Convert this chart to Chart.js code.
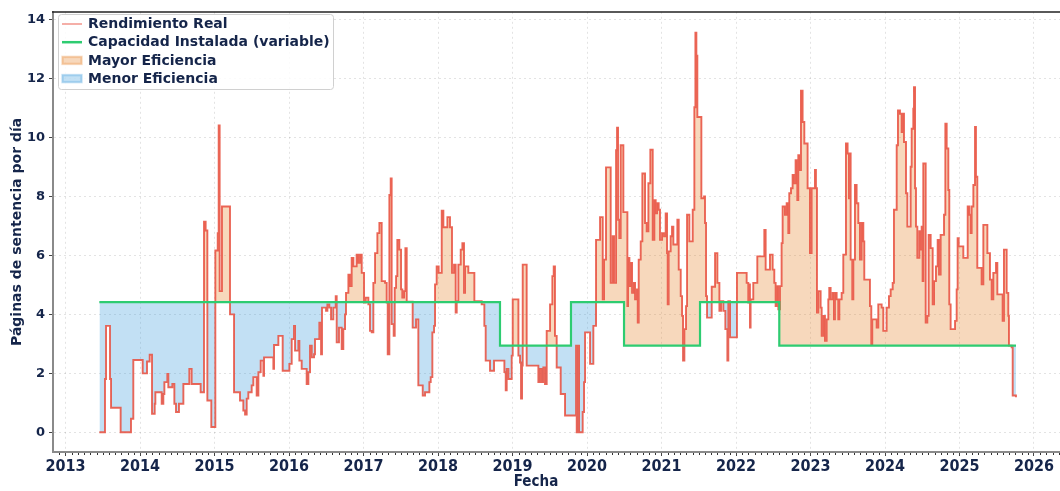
<!DOCTYPE html>
<html>
<head>
<meta charset="utf-8">
<script src="https://cdn.jsdelivr.net/npm/chart.js@4.4.0/dist/chart.umd.min.js"></script>
<style>
  html, body { margin: 0; padding: 0; background: #fff; }
  #wrap { width: 1060px; height: 491px; }
</style>
</head>
<body>
<div id="wrap"><canvas id="grafico" width="1060" height="491"></canvas></div>
<script>
// Fechas (año decimal) y rendimiento real
const fechas = [
  2013.454, 2013.53, 2013.544, 2013.597, 2013.611, 2013.74, 2013.879, 2013.91, 2014.036, 2014.094,
  2014.13, 2014.161, 2014.197, 2014.206, 2014.291, 2014.313, 2014.327, 2014.367, 2014.38, 2014.434,
  2014.461, 2014.483, 2014.523, 2014.582, 2014.662, 2014.693, 2014.814, 2014.859, 2014.881, 2014.904,
  2014.957, 2015.011, 2015.043, 2015.056, 2015.069, 2015.1, 2015.208, 2015.262,
  2015.342, 2015.387, 2015.41, 2015.432, 2015.454, 2015.499, 2015.521, 2015.566, 2015.589, 2015.62,
  2015.656, 2015.665, 2015.79, 2015.799, 2015.857, 2015.915, 2016.005, 2016.036, 2016.067, 2016.081,
  2016.126, 2016.139, 2016.17, 2016.237, 2016.26, 2016.282, 2016.305, 2016.336, 2016.349, 2016.407,
  2016.43, 2016.443, 2016.497, 2016.515, 2016.541, 2016.564, 2016.595, 2016.627, 2016.64, 2016.671,
  2016.707, 2016.729, 2016.752, 2016.765, 2016.797, 2016.819, 2016.841, 2016.864, 2016.908, 2016.931,
  2016.953, 2016.976, 2017.007, 2017.029, 2017.065, 2017.087, 2017.11, 2017.132, 2017.155, 2017.186,
  2017.213, 2017.244, 2017.289, 2017.311, 2017.325, 2017.347, 2017.365,
  2017.378, 2017.405, 2017.419, 2017.437, 2017.454, 2017.481, 2017.504, 2017.521, 2017.544, 2017.562,
  2017.58, 2017.66, 2017.705, 2017.736, 2017.795, 2017.826, 2017.884, 2017.902, 2017.924, 2017.947,
  2017.96, 2017.982, 2018.009, 2018.05, 2018.072, 2018.126, 2018.161, 2018.188, 2018.215, 2018.237,
  2018.251, 2018.273, 2018.305, 2018.327, 2018.349, 2018.363, 2018.407, 2018.488, 2018.586, 2018.622,
  2018.64, 2018.698, 2018.752, 2018.891, 2018.909, 2018.922, 2018.945, 2018.989, 2019.003, 2019.079,
  2019.101, 2019.114, 2019.128, 2019.137, 2019.19, 2019.347, 2019.37, 2019.392, 2019.414, 2019.436,
  2019.459, 2019.504, 2019.535, 2019.553, 2019.57, 2019.593, 2019.647, 2019.705,
  2019.853, 2019.862, 2019.884, 2019.893, 2019.942, 2019.96, 2019.974, 2020.041, 2020.085, 2020.121,
  2020.175, 2020.211, 2020.229, 2020.255, 2020.318, 2020.345, 2020.363, 2020.39, 2020.403, 2020.417,
  2020.434, 2020.452, 2020.488, 2020.542, 2020.551, 2020.569, 2020.587, 2020.605, 2020.622, 2020.645,
  2020.667, 2020.681, 2020.694, 2020.721, 2020.743, 2020.779, 2020.801, 2020.824, 2020.85, 2020.882,
  2020.904, 2020.922, 2020.94, 2020.962, 2020.98, 2021.007, 2021.034, 2021.056, 2021.074, 2021.083,
  2021.096, 2021.123, 2021.141, 2021.159, 2021.213, 2021.231, 2021.258, 2021.276, 2021.289, 2021.307,
  2021.329, 2021.343, 2021.374, 2021.419, 2021.441, 2021.455, 2021.468, 2021.481, 2021.535, 2021.571,
  2021.584, 2021.598, 2021.611, 2021.674, 2021.719, 2021.75, 2021.777, 2021.799, 2021.83, 2021.857,
  2021.884, 2021.897, 2021.92, 2022.013,
  2022.143, 2022.165, 2022.179, 2022.187, 2022.196, 2022.232, 2022.286, 2022.38, 2022.398, 2022.456,
  2022.492, 2022.514, 2022.532, 2022.545, 2022.568, 2022.59, 2022.612, 2022.626, 2022.657, 2022.68,
  2022.702, 2022.715, 2022.738, 2022.76, 2022.778, 2022.8, 2022.823, 2022.836, 2022.859, 2022.872,
  2022.894, 2022.917, 2022.961, 2022.993, 2023.015, 2023.06, 2023.073, 2023.087, 2023.105, 2023.136,
  2023.15, 2023.172, 2023.194, 2023.217, 2023.239, 2023.252, 2023.27, 2023.297, 2023.315, 2023.328,
  2023.351, 2023.373, 2023.387, 2023.418, 2023.44, 2023.476, 2023.498, 2023.516, 2023.53, 2023.539,
  2023.561, 2023.575, 2023.597, 2023.619, 2023.642, 2023.664, 2023.686, 2023.709, 2023.722, 2023.798,
  2023.816, 2023.829, 2023.888, 2023.91, 2023.955, 2023.977, 2024.022, 2024.053, 2024.076, 2024.103,
  2024.12,
  2024.157, 2024.174, 2024.201, 2024.224, 2024.237, 2024.255, 2024.282, 2024.3, 2024.344, 2024.358,
  2024.38, 2024.389, 2024.403, 2024.416, 2024.434, 2024.461, 2024.479, 2024.492, 2024.505, 2024.514,
  2024.546, 2024.568, 2024.586, 2024.613, 2024.64, 2024.658, 2024.684, 2024.707, 2024.725, 2024.747,
  2024.792, 2024.81, 2024.828, 2024.85, 2024.863, 2024.881, 2024.94, 2024.962, 2024.975, 2024.989,
  2025.051, 2025.11, 2025.132, 2025.15, 2025.163, 2025.186, 2025.208, 2025.221, 2025.239, 2025.297,
  2025.32, 2025.374, 2025.409, 2025.432, 2025.454, 2025.49, 2025.508, 2025.579, 2025.597, 2025.633,
  2025.655, 2025.664, 2025.7, 2025.714, 2025.758
];
const rendimiento = [
  0, 1.81, 3.61, 1.81, 0.83, 0, 0.46, 2.45, 2.0, 2.4,
  2.63, 0.63, 0.97, 1.36, 0.97, 1.3, 1.7, 1.98, 1.53, 1.64,
  0.97, 0.69, 0.97, 1.64, 2.15, 1.64, 1.36, 7.15, 6.85, 1.08,
  0.18, 6.17, 6.76, 10.41, 4.79, 7.66, 4.0, 1.36,
  1.08, 0.74, 0.6, 1.14, 1.36, 1.59, 1.87, 1.25, 2.04, 2.43,
  1.92, 2.54, 2.15, 2.96, 3.27, 2.09, 2.32, 3.16, 3.61, 2.77,
  3.1, 2.43, 2.15, 1.64, 2.04, 2.94, 2.54, 2.65, 3.16, 3.72,
  2.65, 4.23, 4.12, 4.34, 4.23, 3.83, 4.23, 4.62, 3.05, 3.55,
  2.82, 3.5, 4.0, 4.73, 5.35, 4.96, 5.92, 5.63, 6.03, 5.75,
  6.03, 5.41, 4.4, 4.57, 4.34, 3.44, 3.39, 5.07, 6.08, 6.76,
  7.1, 5.13, 5.07, 4.4, 2.65, 8.05, 8.61,
  3.67, 3.27, 4.9, 5.3, 6.53, 6.2, 4.85, 4.57, 4.79, 6.25,
  4.43, 3.55, 3.83, 1.59, 1.25, 1.36, 1.7, 1.87, 3.39, 3.61,
  5.02, 5.63, 5.41, 7.52, 6.96, 7.3, 6.96, 5.41, 5.69, 4.06,
  4.45, 5.69, 6.2, 6.42, 4.73, 5.63, 5.41, 4.45, 4.34, 3.61,
  2.43, 2.09, 2.43, 2.04, 1.42, 2.15, 1.81, 2.6, 4.51, 2.6,
  2.37, 1.14, 2.26, 5.69, 2.26, 1.7, 2.15, 1.7, 2.2, 1.64,
  3.44, 4.34, 5.3, 5.63, 3.27, 2.2, 1.3, 0.57,
  2.94, 0, 2.94, 0, 0.69, 1.7, 3.39, 2.32, 3.61, 6.53,
  7.3, 4.51, 5.86, 8.99, 5.07, 6.65, 5.07, 9.57, 10.34, 7.21,
  6.59, 9.74, 7.47, 4.28, 5.92, 4.96, 5.75, 4.73, 5.07, 4.51,
  4.85, 3.72, 5.86, 6.48, 8.78, 7.1, 6.82, 8.45, 9.59, 6.53,
  7.88, 7.43, 7.77, 7.55, 6.53, 6.76, 6.65, 7.43, 6.08, 4.34,
  6.14, 6.65, 6.98, 6.37, 7.21, 5.52, 4.62, 3.95, 2.43, 3.5,
  4.28, 7.38, 6.48, 7.55, 11.03, 13.56, 12.78, 10.7, 7.94, 8.0,
  7.1, 4.62, 3.89, 4.94, 6.08, 5.07, 4.12, 4.45, 4.12, 3.5,
  2.43, 4.45, 3.22, 5.41,
  5.07, 4.4, 5.02, 3.55, 4.51, 5.07, 5.97, 6.87, 5.52, 6.03,
  5.52, 5.07, 4.28, 4.96, 4.17, 4.96, 6.42, 7.66, 7.38, 7.77,
  6.76, 8.11, 8.28, 8.73, 8.45, 9.23, 7.88, 9.4, 8.9, 11.59,
  10.53, 9.8, 8.28, 6.08, 8.28, 8.9, 8.28, 4.06, 4.79, 4.23,
  3.27, 3.95, 3.1, 3.83, 4.51, 4.9, 4.51, 4.73, 3.83, 4.73,
  4.51, 3.83, 4.51, 4.73, 6.03, 9.8, 9.46, 7.94, 9.46, 5.86,
  4.51, 5.86, 8.39, 7.77, 7.1, 5.86, 7.1, 6.48, 5.18, 4.28,
  2.99, 3.83, 3.55, 4.34, 4.23, 3.44, 4.23, 4.62, 4.85, 5.07,
  7.55,
  9.74, 10.92, 10.81, 10.19, 10.81, 9.85, 8.11, 6.98, 9.01, 10.3,
  10.98, 11.71, 8.28, 6.98, 5.92, 6.82, 6.2, 6.98, 5.13, 9.12,
  3.72, 3.95, 6.7, 6.25, 4.34, 5.13, 5.63, 6.53, 5.35, 6.7,
  7.38, 10.47, 9.63, 8.22, 4.34, 3.5, 3.78, 4.85, 6.59, 6.31,
  5.92, 7.66, 7.38, 6.76, 7.66, 8.39, 10.36, 8.67, 5.58, 5.02,
  7.04, 6.08, 5.18, 4.51, 5.41, 5.75, 4.68, 3.78, 6.2, 4.73,
  3.95, 2.94, 2.88, 1.25, 1.19
];

// Capacidad instalada (escalones)
const capFechas = [2013.454, 2018.832, 2019.785, 2020.497, 2021.517, 2022.581, 2025.758];
const capValores = [4.42, 2.94, 4.42, 2.94, 4.42, 2.94, 2.94];

// Ticks
const aniosTicks = [2013, 2014, 2015, 2016, 2017, 2018, 2019, 2020, 2021, 2022, 2023, 2024, 2025, 2026];
const yTicks = [0, 2, 4, 6, 8, 10, 12, 14];

const etiquetas = ['Rendimiento Real', 'Capacidad Instalada (variable)', 'Mayor Eficiencia', 'Menor Eficiencia'];

const colorTexto = '#15254a';
const colorReal = 'rgba(231, 76, 60, 0.85)';
const colorCap = '#2ecc71';
const colorMayor = 'rgba(230, 126, 34, 0.3)';
const colorMenor = 'rgba(52, 152, 219, 0.3)';

// Minor ticks, borde superior, titulo del eje x y leyenda
const decoracion = {
    id: 'decoracion',
    afterDraw(chart) {
        const ctx = chart.ctx;
        const a = chart.chartArea;
        const x = chart.scales.x;
        ctx.save();

        // ticks menores mensuales
        ctx.strokeStyle = '#333';
        ctx.lineWidth = 1;
        for (let an = 2012; an <= 2026; an++) {
            for (let m = 1; m < 12; m++) {
                const px = Math.round(x.getPixelForValue(an + m / 12)) + 0.5;
                if (px < a.left + 2 || px > a.right) continue;
                ctx.beginPath();
                ctx.moveTo(px, a.bottom + 1);
                ctx.lineTo(px, a.bottom + 3);
                ctx.stroke();
            }
        }

        // borde superior
        ctx.strokeStyle = '#222';
        ctx.lineWidth = 1.5;
        ctx.beginPath();
        ctx.moveTo(a.left - 1, a.top + 0.25);
        ctx.lineTo(chart.width, a.top + 0.25);
        ctx.stroke();

        // titulo eje x
        ctx.fillStyle = colorTexto;
        ctx.font = 'bold 15px "DejaVu Sans Condensed", "DejaVu Sans"';
        ctx.textAlign = 'center';
        ctx.textBaseline = 'middle';
        ctx.fillText('Fecha', 536, 482);

        // leyenda
        const bx = 58, by = 14, bw = 275, bh = 75;
        ctx.fillStyle = 'rgba(255,255,255,0.85)';
        ctx.strokeStyle = '#d0d0d0';
        ctx.lineWidth = 1;
        ctx.beginPath();
        ctx.roundRect(bx + 0.5, by + 0.5, bw, bh, 3);
        ctx.fill();
        ctx.stroke();

        ctx.font = 'bold 14px "DejaVu Sans"';
        ctx.textAlign = 'left';
        etiquetas.forEach((txt, i) => {
            const cy = 24 + i * 18.2;
            if (i === 0) {
                ctx.strokeStyle = 'rgba(231, 76, 60, 0.6)';
                ctx.lineWidth = 1.5;
                ctx.beginPath(); ctx.moveTo(62, cy); ctx.lineTo(82, cy); ctx.stroke();
            } else if (i === 1) {
                ctx.strokeStyle = colorCap;
                ctx.lineWidth = 2.5;
                ctx.beginPath(); ctx.moveTo(62, cy); ctx.lineTo(82, cy); ctx.stroke();
            } else {
                ctx.fillStyle = i === 2 ? colorMayor : colorMenor;
                ctx.fillRect(62, cy - 4, 20, 8);
                ctx.strokeStyle = i === 2 ? 'rgba(230,126,34,0.25)' : 'rgba(52,152,219,0.25)';
                ctx.strokeRect(62.5, cy - 3.5, 19, 7);
            }
            ctx.fillStyle = colorTexto;
            ctx.fillText(txt, 88, cy + 0.5);
        });

        ctx.restore();
    }
};

const puntosReal = fechas.map((f, i) => ({x: f, y: rendimiento[i]}));
const puntosCap = capFechas.map((f, i) => ({x: f, y: capValores[i]}));

const ctx = document.getElementById('grafico').getContext('2d');
new Chart(ctx, {
    type: 'line',
    data: {
        datasets: [
            {
                label: etiquetas[0],
                data: puntosReal,
                stepped: true,
                borderColor: colorReal,
                borderWidth: 1.9,
                pointRadius: 0,
                order: 1,
                fill: { target: 1, above: colorMayor, below: colorMenor }
            },
            {
                label: etiquetas[1],
                data: puntosCap,
                stepped: true,
                borderColor: colorCap,
                borderWidth: 2.2,
                pointRadius: 0,
                order: 0,
                fill: false
            }
        ]
    },
    options: {
        responsive: false,
        animation: false,
        devicePixelRatio: 1,
        layout: { padding: { top: 9, right: 0, left: 0, bottom: 0 } },
        plugins: {
            legend: { display: false },
            tooltip: { enabled: false },
            filler: { drawTime: 'beforeDatasetsDraw' }
        },
        scales: {
            x: {
                type: 'linear',
                min: 2012.832,
                max: 2026.349,
                afterBuildTicks: s => { s.ticks = aniosTicks.map(v => ({ value: v })); },
                afterFit: s => { s.height = 39; },
                ticks: {
                    includeBounds: false,
                    autoSkip: false,
                    maxRotation: 0,
                    padding: 1,
                    color: colorTexto,
                    font: { family: '"DejaVu Sans Condensed", "DejaVu Sans"', weight: 'bold', size: 16 },
                    callback: v => String(v)
                },
                grid: { color: 'rgba(0,0,0,0.11)', lineWidth: 1, tickLength: 4, tickColor: '#444' },
                border: { display: true, color: '#8a8a8a', width: 2, dash: [2, 3] }
            },
            y: {
                min: -0.67,
                max: 14.27,
                afterBuildTicks: s => { s.ticks = yTicks.map(v => ({ value: v })); },
                afterFit: s => { s.width = 53; },
                ticks: {
                    includeBounds: false,
                    padding: 4,
                    color: colorTexto,
                    font: { family: 'DejaVu Sans', weight: 'bold', size: 13 },
                    callback: v => String(v)
                },
                title: {
                    display: true,
                    text: 'Páginas de sentencia por día',
                    color: colorTexto,
                    font: { family: 'DejaVu Sans', weight: 'bold', size: 14 },
                    padding: { top: 9, bottom: 0 }
                },
                grid: { color: 'rgba(0,0,0,0.11)', lineWidth: 1, tickLength: 4, tickColor: '#444' },
                border: { display: true, color: '#8a8a8a', width: 2, dash: [2, 3] }
            }
        }
    },
    plugins: [decoracion]
});
</script>
</body>
</html>
